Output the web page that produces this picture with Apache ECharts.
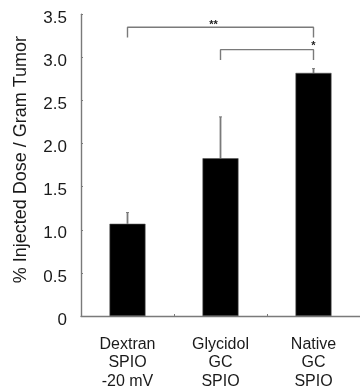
<!DOCTYPE html>
<html>
<head>
<meta charset="utf-8">
<script src="https://cdn.jsdelivr.net/npm/echarts@6/dist/echarts.min.js"></script>
<style>
  html, body { margin: 0; padding: 0; background: #fff; }
  #chart { width: 360px; height: 391px; }
</style>
</head>
<body>
<div id="chart"></div>
<script>
// Tumor uptake per formulation (mean, with upper error bar)
const categories = ['Dextran\nSPIO\n-20 mV', 'Glycidol\nGC\nSPIO', 'Native\nGC\nSPIO'];
const uptake = [1.07, 1.83, 2.82];
const errorTop = [1.20, 2.31, 2.87];
const yTicks = [0, 0.5, 1.0, 1.5, 2.0, 2.5, 3.0, 3.5];

// Significance brackets
const bracketFrom = [0, 1];
const bracketTo = [2, 2];
const bracketLevel = [3.35, 3.09];
const bracketDrop = [3.23, 2.97];
const bracketMark = ['**', '*'];
const markLevel = [3.38, 3.13];

const FONT = '"Liberation Sans", Arial, Helvetica, sans-serif';
const GREY = '#7a7a7a';

const chart = echarts.init(document.getElementById('chart'), null, { renderer: 'canvas' });

const bracketSeries = bracketFrom.map((from, i) => ({
  type: 'line',
  silent: true,
  symbol: 'none',
  lineStyle: { color: GREY, width: 1.4 },
  z: 3,
  data: [
    [from, bracketDrop[i]],
    [from, bracketLevel[i]],
    [bracketTo[i], bracketLevel[i]],
    [bracketTo[i], bracketDrop[i]]
  ]
}));

chart.setOption({
  animation: false,
  backgroundColor: '#fff',
  grid: { left: 81, top: 14.3, bottom: 75, width: 286 },
  xAxis: {
    type: 'category',
    data: categories,
    axisLine: { lineStyle: { color: GREY, width: 1.4 } },
    axisTick: { show: true, inside: true, length: 2, lineStyle: { color: GREY } },
    axisLabel: {
      interval: 0,
      margin: 19,
      color: '#1a1a1a',
      fontFamily: FONT,
      fontSize: 16,
      lineHeight: 18.5
    }
  },
  yAxis: {
    type: 'value',
    min: 0,
    max: 3.5,
    interval: 0.5,
    name: '% Injected Dose / Gram Tumor',
    nameLocation: 'middle',
    nameRotate: 90,
    nameGap: 51,
    nameTextStyle: { color: '#1a1a1a', fontFamily: FONT, fontSize: 18, padding: [0, 0, 0, 11] },
    splitLine: { show: false },
    axisLine: { show: true, lineStyle: { color: GREY, width: 1.4 } },
    axisTick: { show: true, inside: true, length: 2, lineStyle: { color: GREY } },
    axisLabel: {
      margin: 14,
      formatter: v => '{t|' + (v === 0 ? '0' : v.toFixed(1)) + '}',
      rich: {
        t: {
          color: '#1a1a1a',
          fontFamily: FONT,
          fontSize: 17,
          padding: [8, 0, 0, 0]
        }
      }
    }
  },
  series: [
    {
      type: 'bar',
      data: uptake,
      barWidth: 36,
      itemStyle: { color: '#000', borderColor: '#555', borderWidth: 0.6 },
      z: 2
    },
    {
      type: 'custom',
      silent: true,
      z: 1,
      data: uptake.map((v, i) => [i, v, errorTop[i]]),
      renderItem: (params, api) => {
        const base = api.coord([api.value(0), api.value(1)]);
        const top = api.coord([api.value(0), api.value(2)]);
        return {
          type: 'group',
          children: [
            { type: 'line', shape: { x1: base[0], y1: base[1], x2: top[0], y2: top[1] },
              style: { stroke: GREY, lineWidth: 1.8 } },
            { type: 'line', shape: { x1: top[0] - 1.5, y1: top[1], x2: top[0] + 1.5, y2: top[1] },
              style: { stroke: GREY, lineWidth: 1 } }
          ]
        };
      }
    },
    ...bracketSeries,
    {
      type: 'custom',
      silent: true,
      z: 4,
      data: bracketFrom.map((from, i) => [(from + bracketTo[i]) / 2, markLevel[i], i]),
      renderItem: (params, api) => {
        const p = api.coord([api.value(0), api.value(1)]);
        const i = api.value(2);
        return {
          type: 'text',
          x: p[0] + (i === 0 ? -7 : 0),
          y: p[1],
          style: {
            text: bracketMark[i],
            fill: '#222',
            font: 'bold 11px ' + FONT,
            textAlign: 'center',
            textVerticalAlign: 'middle'
          }
        };
      }
    }
  ]
});
</script>
</body>
</html>
